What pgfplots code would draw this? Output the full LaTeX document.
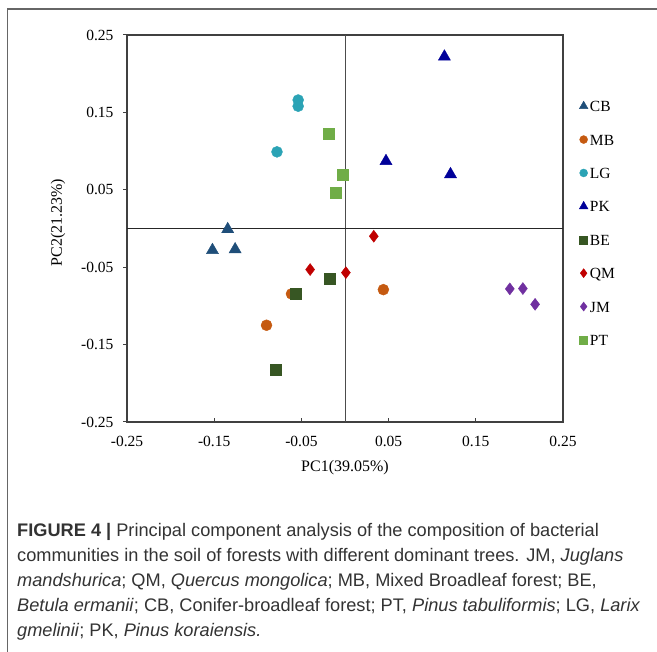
\documentclass[border=0pt]{standalone}
\usepackage{pgfplots}
\pgfplotsset{compat=1.18}
\usepackage{fontspec}
\setmainfont{Liberation Serif}
\newfontfamily\capfont{Liberation Sans}

\definecolor{cCB}{HTML}{1F4E79}
\definecolor{cMB}{HTML}{C55A11}
\definecolor{cLG}{HTML}{2BA3B5}
\definecolor{cPK}{HTML}{000099}
\definecolor{cBE}{HTML}{375623}
\definecolor{cQM}{HTML}{C00000}
\definecolor{cJM}{HTML}{7030A0}
\definecolor{cPT}{HTML}{70AD47}
\definecolor{captxt}{HTML}{333333}

\newcommand{\axfont}{\fontsize{15.5}{18}\selectfont}
\newcommand{\labfont}{\fontsize{16}{19}\selectfont}
\newcommand{\capsize}{\capfont\fontsize{18.2}{22}\selectfont}

\begin{document}
\begin{tikzpicture}[x=1pt,y=1pt]
\useasboundingbox (0,0) rectangle (657,652);
\draw[black!60, line width=1.2pt] (7.5,0) -- (7.5,643) -- (657,643);

\begin{axis}[
    at={(127pt,230pt)}, anchor=south west,
    scale only axis, width=436pt, height=387pt,
    xmin=-0.25, xmax=0.25, ymin=-0.25, ymax=0.25,
    xtick={-0.25,-0.15,-0.05,0.05,0.15,0.25},
    xticklabels={-0.25,-0.15,-0.05,0.05,0.15,0.25},
    ytick={-0.25,-0.15,-0.05,0.05,0.15,0.25},
    yticklabels={-0.25,-0.15,-0.05,0.05,0.15,0.25},
    xtick pos=bottom, ytick pos=left,
    xtick align=inside, ytick align=outside,
    major tick length=4pt,
    axis line style={black!75, line width=1.2pt},
    tick style={black!75, line width=1pt},
    ticklabel style={font=\axfont},
    xticklabel style={yshift=-11pt},
    yticklabel style={xshift=-6pt},
    extra x ticks={0}, extra x tick labels={},
    extra x tick style={grid=major, major grid style={black!70, line width=0.9pt}, major tick length=0pt},
    extra y ticks={0}, extra y tick labels={},
    extra y tick style={grid=major, major grid style={black!85, line width=1.2pt}, major tick length=0pt},
    xlabel={PC1(39.05\%)}, ylabel={PC2(21.23\%)},
    every axis x label/.style={at={(axis description cs:0.5,-0.119)}, anchor=center, font=\labfont},
    every axis y label/.style={at={(axis description cs:-0.158,0.515)}, rotate=90, anchor=center, font=\labfont},
    only marks,
    legend image code/.code={\draw[#1] plot coordinates {(0pt,0pt)};},
    legend style={draw=none, fill=none, inner sep=0pt, at={(1.037,0.836)}, anchor=north west,
        font=\axfont, row sep=18.4pt,
        nodes={inner sep=2pt, text height=11pt, text depth=0pt}},
    legend cell align=left,
]
\addplot[mark=triangle*, mark size=7pt, mark options={draw=cCB, fill=cCB}, legend image post style={mark size=5pt}]
    coordinates {(-0.1345,-0.001) (-0.152,-0.028) (-0.126,-0.027)};
\addplot[mark=*, mark size=5.5pt, mark options={draw=cMB, fill=cMB}, legend image post style={mark size=4pt}]
    coordinates {(-0.0614,-0.0845) (-0.090,-0.125) (0.044,-0.079)};
\addplot[mark=*, mark size=5.5pt, mark options={draw=cLG, fill=cLG}, legend image post style={mark size=4pt}]
    coordinates {(-0.0537,0.166) (-0.0537,0.158) (-0.078,0.099)};
\addplot[mark=triangle*, mark size=7pt, mark options={draw=cPK, fill=cPK}, legend image post style={mark size=5pt}]
    coordinates {(0.114,0.222) (0.047,0.087) (0.121,0.070)};
\addplot[mark=square*, mark size=5.5pt, mark options={draw=cBE, fill=cBE}, legend image post style={mark size=4pt}]
    coordinates {(-0.056,-0.0845) (-0.0176,-0.065) (-0.080,-0.182)};
\addplot[mark=diamond*, mark size=6pt, mark options={draw=cQM, fill=cQM}, legend image post style={mark size=4.5pt}]
    coordinates {(0.033,-0.010) (-0.040,-0.053) (0.001,-0.057)};
\addplot[mark=diamond*, mark size=6pt, mark options={draw=cJM, fill=cJM}, legend image post style={mark size=4.5pt}]
    coordinates {(0.189,-0.078) (0.204,-0.0776) (0.218,-0.098)};
\addplot[mark=square*, mark size=5.5pt, mark options={draw=cPT, fill=cPT}, legend image post style={mark size=4pt}]
    coordinates {(-0.0185,0.122) (-0.003,0.069) (-0.011,0.046)};
\legend{CB,MB,LG,PK,BE,QM,JM,PT}
\end{axis}

\begin{scope}[every node/.style={anchor=base west, inner sep=0pt, font=\capsize, text=captxt}]
\node at (17,115) {\textbf{FIGURE 4 |} Principal component analysis of the composition of bacterial};
\node at (17,90) {communities in the soil of forests with different dominant trees. JM, \textit{Juglans}};
\node at (17,65) {\textit{mandshurica}; QM, \textit{Quercus mongolica}; MB, Mixed Broadleaf forest; BE,};
\node at (17,40) {\textit{Betula ermanii}; CB, Conifer-broadleaf forest; PT, \textit{Pinus tabuliformis}; LG, \textit{Larix}};
\node at (17,15) {\textit{gmelinii}; PK, \textit{Pinus koraiensis.}};
\end{scope}
\end{tikzpicture}
\end{document}
